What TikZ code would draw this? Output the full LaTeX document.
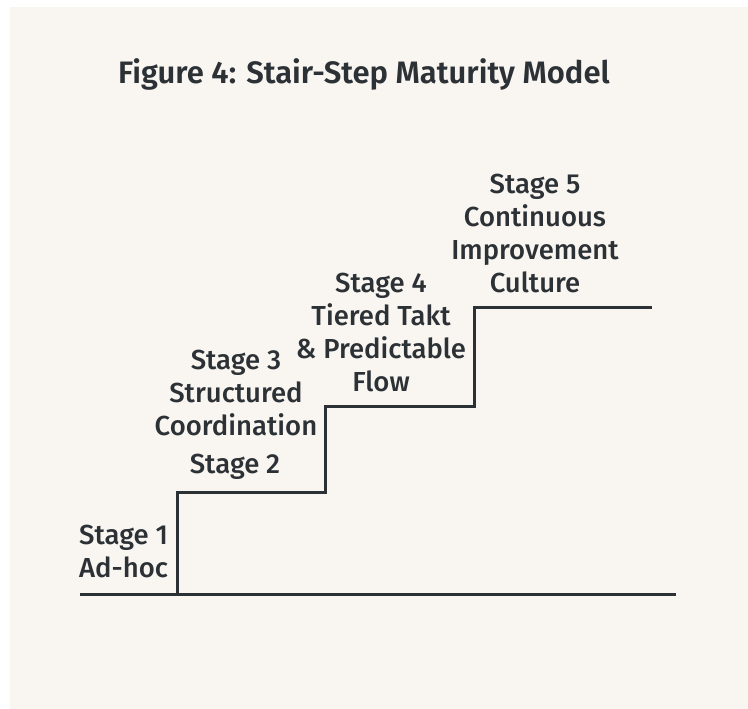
\documentclass[tikz,border=0pt]{standalone}
\usepackage{fontspec}
\setmainfont{Fira Sans}
\newfontfamily\medfont{Fira Sans Medium}
\newfontfamily\semifont{Fira Sans SemiBold}
\definecolor{bgc}{HTML}{F9F6F1}
\definecolor{ink}{HTML}{2C3136}
\tikzset{
  lbl/.style={text=ink, font=\medfont\fontsize{27.5}{33}\selectfont, align=center, inner sep=0pt},
  stair/.style={draw=ink, line width=3pt, line cap=butt, line join=miter}
}
\begin{document}
\begin{tikzpicture}[x=1pt,y=-1pt]
\useasboundingbox (0,0) rectangle (748,709);
\fill[white] (0,0) rectangle (748,709);
\fill[bgc] (10,7) rectangle (748,709);
\node[text=ink, font=\semifont\fontsize{31}{34}\selectfont, inner sep=0pt] (title) at (364,74) {Figure 4: Stair-Step Maturity Model};
\coordinate (b0) at (80,594);
\coordinate (b1) at (676,594);
\coordinate (s1) at (177,594);
\coordinate (s1t) at (177,492);
\coordinate (s2) at (325,492);
\coordinate (s2t) at (325,406);
\coordinate (s3) at (474,406);
\coordinate (s3t) at (474,307);
\coordinate (s4) at (652,307);
\draw[stair] (b0) -- (b1);
\draw[stair] (s1) -- (s1t) -- (s2) -- (s2t) -- (s3) -- (s3t) -- (s4);
\node[lbl, align=left, anchor=west] (st1) at (79,551) {Stage 1\\Ad-hoc};
\node[lbl] (st2) at (235,467) {Stage 2};
\node[lbl] (st3) at (236,393) {Stage 3\\Structured\\Coordination};
\node[lbl] (st4) at (381,332) {Stage 4\\Tiered Takt\\\& Predictable\\Flow};
\node[lbl] (st5) at (535,233) {Stage 5\\Continuous\\Improvement\\Culture};
\end{tikzpicture}
\end{document}
